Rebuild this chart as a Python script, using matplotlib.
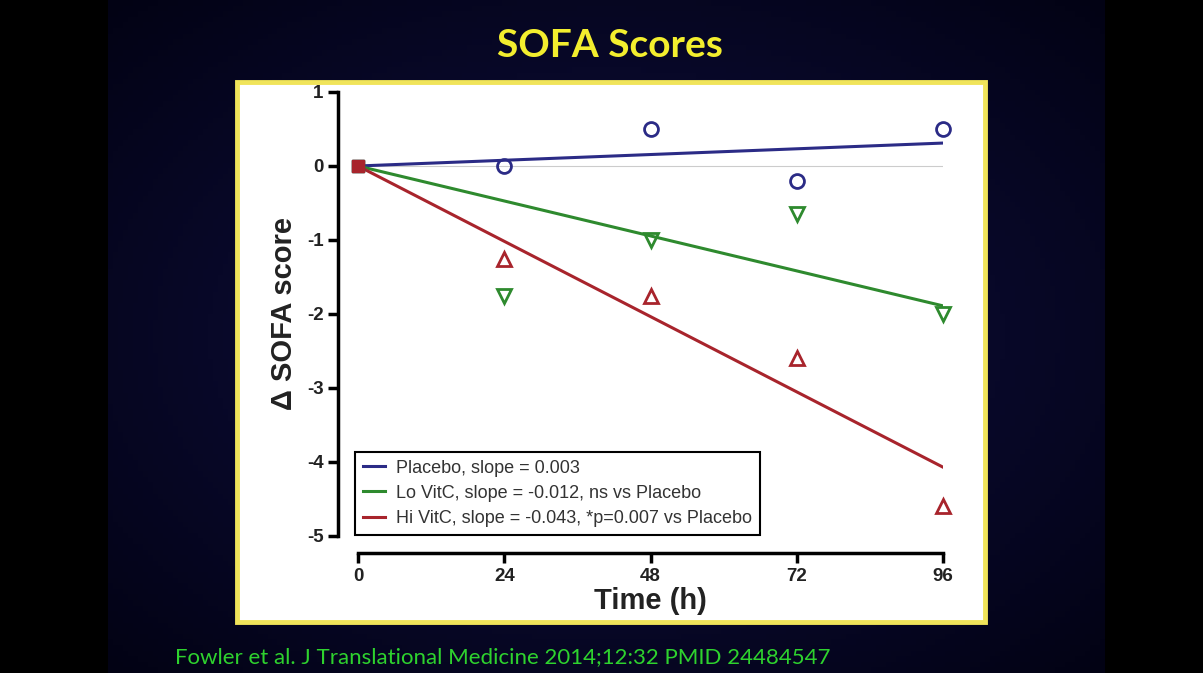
import numpy as np
import matplotlib.pyplot as plt
from matplotlib.patches import Rectangle

# data
hours = [0, 24, 48, 72, 96]
placebo = [0, 0, 0.5, -0.2, 0.5]
lo_vitc = [0, -1.75, -1.0, -0.65, -2.0]
hi_vitc = [0, -1.25, -1.75, -2.6, -4.6]
# fitted line end values at 96 h (lines start at 0)
fit_end = [0.31, -1.89, -4.07]
labels = ['Placebo, slope = 0.003',
          'Lo VitC, slope = -0.012, ns vs Placebo',
          'Hi VitC, slope = -0.043, *p=0.007 vs Placebo']
colors = ['#2b2b86', '#2e8a2e', '#a8242c']
markers = ['o', 'v', '^']

plt.rcParams['axes.unicode_minus'] = False

W, H = 1203, 673
fig = plt.figure(figsize=(W / 100, H / 100), dpi=100)
fig.patch.set_facecolor('black')

# slide background: dark navy with soft vignette, black side bars
bg = fig.add_axes([0, 0, 1, 1])
bg.set_xlim(0, W)
bg.set_ylim(H, 0)
bg.axis('off')
xx, yy = np.meshgrid(np.linspace(-1, 1, 200), np.linspace(-1, 1, 120))
r = np.clip(np.sqrt(xx**2 + yy**2) / 1.4, 0, 1)
img = np.zeros((120, 200, 3))
img[..., 0] = 0.05 * (1 - r) + 0.01
img[..., 1] = 0.05 * (1 - r) + 0.01
img[..., 2] = 0.18 * (1 - r) + 0.08
bg.imshow(img, extent=[108, 1105, H, 0], aspect='auto', zorder=0)
bg.add_patch(Rectangle((237, 82), 748, 540, facecolor='white',
                       edgecolor='#f0e45a', linewidth=3.5, zorder=1))

fig.text(0.507, 0.933, 'SOFA Scores', color='#f3ee2e', fontsize=28,
         fontweight='bold', family='Lato', ha='center', va='center')
fig.text(175 / W, 1 - 657 / H,
         'Fowler et al. J Translational Medicine 2014;12:32 PMID 24484547',
         color='#2ed22e', fontsize=16, family='Lato', ha='left', va='center')

ax = fig.add_axes([358 / W, 1 - 536 / H, 585 / W, 444 / H])
ax.set_facecolor('none')
ax.set_xlim(0, 96)
ax.set_ylim(-5, 1)

ax.plot([0, 96], [0, 0], color='#cccccc', lw=0.8, zorder=1)

series = [placebo, lo_vitc, hi_vitc]
for i, ys in enumerate(series):
    ax.plot([0, 96], [0, fit_end[i]], color=colors[i], lw=2.2,
            label=labels[i], zorder=2)
    ax.plot(hours[1:], ys[1:], linestyle='none', marker=markers[i],
            markersize=10, markerfacecolor='none', markeredgecolor=colors[i],
            markeredgewidth=2, clip_on=False, zorder=3)
# filled squares at origin
for j, c in enumerate(colors):
    ax.plot(hours[:1], [0], linestyle='none', marker='s', markersize=9,
            color=c, clip_on=False, zorder=4 + j)

for s in ['top', 'right']:
    ax.spines[s].set_visible(False)
ax.spines['left'].set_position(('outward', 14.4))
ax.spines['bottom'].set_position(('outward', 12.2))
for s in ['left', 'bottom']:
    ax.spines[s].set_linewidth(2.5)
ax.set_xticks(hours)
ax.set_yticks([1, 0, -1, -2, -3, -4, -5])
ax.tick_params(width=2.5, length=7, labelsize=13.5, direction='out')
for t in ax.get_xticklabels() + ax.get_yticklabels():
    t.set_fontweight('bold')
    t.set_family('Liberation Sans')
    t.set_color('#222222')

ax.set_xlabel('Time (h)', fontsize=21, fontweight='bold',
              family='Liberation Sans', labelpad=2, color='#222222')
ax.set_ylabel('Δ SOFA score', fontsize=21, fontweight='bold',
              family='Liberation Sans', labelpad=6, color='#222222')

leg = ax.legend(loc='lower left', bbox_to_anchor=(355 / W, 1 - 535 / H),
                bbox_transform=fig.transFigure, fancybox=False,
                edgecolor='black', framealpha=1, handlelength=1.2,
                handletextpad=0.6,
                prop={'family': 'Liberation Sans', 'size': 13},
                borderpad=0.45, labelspacing=0.45, borderaxespad=0)
leg.get_frame().set_linewidth(1.5)
for t in leg.get_texts():
    t.set_color('#333333')

fig.savefig('out.png', dpi=100, facecolor=fig.get_facecolor())
